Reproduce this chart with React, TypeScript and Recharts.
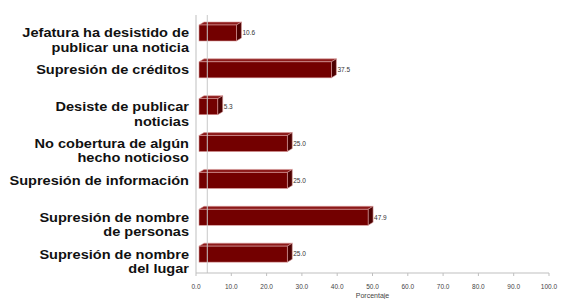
import { BarChart, Bar, XAxis, YAxis, LabelList, ReferenceLine } from "recharts";

const categories = [
  "Jefatura ha desistido de\npublicar una noticia",
  "Supresión de créditos",
  "Desiste de publicar\nnoticias",
  "No cobertura de algún\nhecho noticioso",
  "Supresión de información",
  "Supresión de nombre\nde personas",
  "Supresión de nombre\ndel lugar",
];
const values = [10.6, 37.5, 5.3, 25.0, 25.0, 47.9, 25.0];
const xTicks = [0, 10, 20, 30, 40, 50, 60, 70, 80, 90, 100];

const data = categories.map((name, i) => ({ name, value: values[i] }));

const SHIFT = 3;
const DX = 5;
const DY = 3;

function Bar3D(props: any) {
  const { x, y, width, height } = props;
  const x0 = x + SHIFT;
  const x1 = x0 + width;
  return (
    <g>
      <polygon
        points={`${x0},${y} ${x0 + DX},${y - DY} ${x1 + DX},${y - DY} ${x1},${y}`}
        fill="#8c1a1a"
        stroke="#d99a9a"
        strokeWidth={0.6}
      />
      <polygon
        points={`${x1},${y} ${x1 + DX},${y - DY} ${x1 + DX},${y + height - DY} ${x1},${y + height}`}
        fill="#4d0000"
        stroke="#d99a9a"
        strokeWidth={0.6}
      />
      <rect x={x0} y={y} width={width} height={height} fill="#730000" stroke="#d99a9a" strokeWidth={0.6} />
    </g>
  );
}

function CategoryTick(props: any) {
  const { x, y, payload } = props;
  const lines = String(payload.value).split("\n");
  const tx = x - 1;
  return (
    <g transform={`translate(${tx},0) scale(1.12,1) translate(${-tx},0)`}>
      {lines.map((l, i) => (
        <text
          key={i}
          x={tx}
          y={y + 4 + i * 14.5}
          textAnchor="end"
          fontFamily="'Liberation Sans', Arial, sans-serif"
          fontWeight="bold"
          fontSize={13}
          fill="#111"
        >
          {l}
        </text>
      ))}
    </g>
  );
}

export default function App() {
  return (
    <div style={{ position: "absolute", left: 0, top: 0, background: "#fff" }}>
      <BarChart
        width={564}
        height={299}
        data={data}
        layout="vertical"
        barSize={16}
        margin={{ top: 15, right: 15, bottom: 2, left: 0 }}
      >
        <XAxis
          type="number"
          domain={[0, 100]}
          ticks={xTicks}
          tickFormatter={(v: number) => v.toFixed(1)}
          tick={{ fontSize: 6.5, fill: "#444", fontFamily: "'Liberation Sans', Arial, sans-serif" }}
          stroke="#bfbfbf"
          tickSize={3}
          tickMargin={8}
          height={24}
          label={{
            value: "Porcentaje",
            position: "insideBottom",
            offset: -1,
            fontSize: 7,
            fill: "#444",
            fontFamily: "'Liberation Sans', Arial, sans-serif",
          }}
        />
        <YAxis
          type="category"
          dataKey="name"
          width={196}
          tick={<CategoryTick />}
          tickLine={false}
          tickMargin={0}
          stroke="#bfbfbf"
          interval={0}
        />
        <ReferenceLine x={3.2} stroke="#c8c8c8" />
        <Bar dataKey="value" shape={<Bar3D />} isAnimationActive={false}>
          <LabelList
            dataKey="value"
            position="right"
            offset={SHIFT + DX + 1}
            formatter={(v: any) => Number(v).toFixed(1)}
            style={{ fontSize: 6.5, fill: "#333", fontFamily: "'Liberation Sans', Arial, sans-serif" }}
          />
        </Bar>
      </BarChart>
    </div>
  );
}
